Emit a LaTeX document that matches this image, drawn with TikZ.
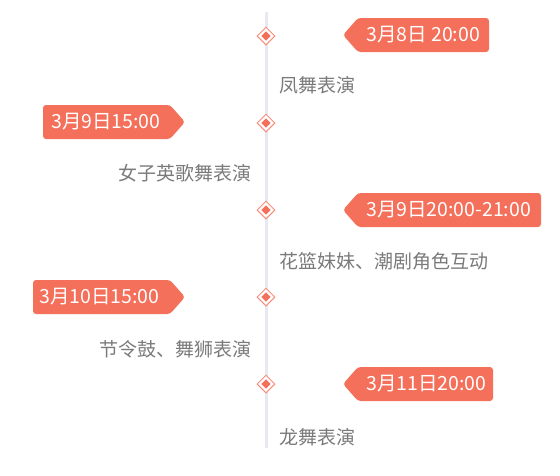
\documentclass[tikz,border=0pt]{standalone}
\usepackage{fontspec}
\setmainfont{Noto Sans CJK SC}
\usetikzlibrary{shapes.geometric}
\definecolor{tagc}{HTML}{F4705A}
\definecolor{txtc}{HTML}{7A7A7A}
\definecolor{linec}{HTML}{E8E8F0}
\tikzset{
  tagfill/.style={fill=tagc, rounded corners=3pt},
  tagtext/.style={text=white, font=\fontsize{19.5}{19.5}\selectfont, inner sep=0pt},
  lbl/.style={text=txtc, font=\fontsize{19}{19}\selectfont, inner sep=0pt},
  dmo/.style={diamond, draw=tagc!80, line width=1pt, fill=white, minimum size=18pt, inner sep=0pt},
  dmi/.style={diamond, fill=tagc, minimum size=9.5pt, inner sep=0pt},
}
\begin{document}
\begin{tikzpicture}[x=1pt,y=-1pt]
\useasboundingbox (0,0) rectangle (560,475);
\coordinate (top) at (266,12);
\coordinate (bot) at (266,448);
\draw[linec, line width=3pt] (top) -- (bot);
% diamonds
\foreach \i/\y in {1/36,2/123,3/210,4/297,5/384}{
  \node[dmo] (d\i) at (266,\y) {};
  \node[dmi] (c\i) at (266,\y) {};
}
% tag 1 (right)
\fill[tagfill] (343,35) -- (358,18) -- (489,18) -- (489,52) -- (358,52) -- cycle;
\node[tagtext, anchor=west] (t1) at (366,35) {3月8日 20:00};
% tag 2 (left)
\fill[tagfill] (43,105) -- (170,105) -- (185,122) -- (170,139) -- (43,139) -- cycle;
\node[tagtext, anchor=west] (t2) at (51,122) {3月9日15:00};
% tag 3 (right)
\fill[tagfill] (343,210) -- (358,193) -- (541,193) -- (541,227) -- (358,227) -- cycle;
\node[tagtext, anchor=west] (t3) at (366,210) {3月9日20:00-21:00};
% tag 4 (left)
\fill[tagfill] (33,280) -- (170,280) -- (185,297) -- (170,314) -- (33,314) -- cycle;
\node[tagtext, anchor=west] (t4) at (39,297) {3月10日15:00};
% tag 5 (right)
\fill[tagfill] (343,384) -- (358,367) -- (493,367) -- (493,401) -- (358,401) -- cycle;
\node[tagtext, anchor=west] (t5) at (366,384) {3月11日20:00};
% labels
\node[lbl, anchor=west] (l1) at (279,85) {凤舞表演};
\node[lbl, anchor=east] (l2) at (252,173) {女子英歌舞表演};
\node[lbl, anchor=west] (l3) at (279,261) {花篮妹妹、潮剧角色互动};
\node[lbl, anchor=east] (l4) at (252,349) {节令鼓、舞狮表演};
\node[lbl, anchor=west] (l5) at (279,437) {龙舞表演};
\end{tikzpicture}
\end{document}
